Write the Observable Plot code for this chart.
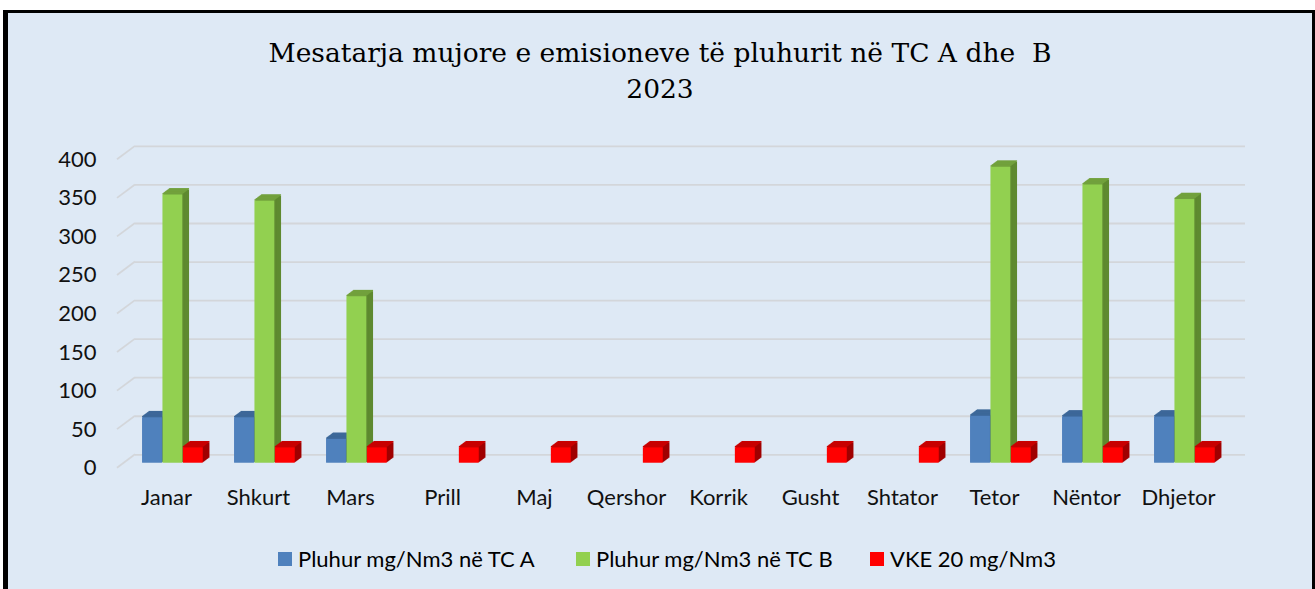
<!DOCTYPE html>
<html><head><meta charset="utf-8">
<script src="https://cdn.jsdelivr.net/npm/d3@7"></script>
<script src="https://cdn.jsdelivr.net/npm/@observablehq/plot@0.6"></script>
<style>
html,body{margin:0;padding:0;background:#fff;}
#frame{position:absolute;left:3px;top:10px;width:1304px;height:600px;background:#dee9f5;border-left:5px solid #000;border-top:3px solid #000;border-right:3px solid #000;overflow:hidden;}
#title{height:97px;box-sizing:border-box;padding-top:22px;text-align:center;font-family:"DejaVu Serif";font-size:26.5px;line-height:36px;color:#000;white-space:pre;}
#chart svg{display:block;}
#legend{display:flex;align-items:center;padding-top:26px;margin-left:270px;font-family:Lato;font-size:22px;line-height:26px;color:#000;white-space:nowrap;}
.item{display:flex;align-items:center;}
.sw{width:14px;height:14px;margin-right:6px;flex:none;}
</style></head>
<body>
<div id="frame">
  <div id="title"></div>
  <div id="chart"></div>
  <div id="legend"></div>
</div>
<script>
const titleLines = ["Mesatarja mujore e emisioneve të pluhurit në TC A dhe  B", "2023"];
const months = ["Janar","Shkurt","Mars","Prill","Maj","Qershor","Korrik","Gusht","Shtator","Tetor","Nëntor","Dhjetor"];
const tcA = [59, 59, 31, null, null, null, null, null, null, 61, 60, 60];
const tcB = [348, 340, 216, null, null, null, null, null, null, 384, 361, 342];
const vke = [20, 20, 20, 20, 20, 20, 20, 20, 20, 20, 20, 20];
const yTicks = [0, 50, 100, 150, 200, 250, 300, 350, 400];
const seriesNames = ["Pluhur mg/Nm3 në TC A", "Pluhur mg/Nm3 në TC B", "VKE 20 mg/Nm3"];

const palette = [
  {front: "#4f81bd", top: "#3d6899", side: "#345a88"},
  {front: "#92d050", top: "#72a13d", side: "#5f8a30"},
  {front: "#ff0000", top: "#c80000", side: "#a00000"}
];
const gridColor = "#d3d6da";

// title
const tdiv = document.getElementById("title");
titleLines.forEach(t => { const d = document.createElement("div"); d.textContent = t; tdiv.appendChild(d); });

const W = 1304, H = 410, mL = 109, mR = 85, mT = 44.3, mB = 57.3;
const band = (W - mL - mR) / months.length;
const bw = 20.4;
const inset = (band - bw) / 2;
const depthX = 6.7, depthY = 5, steps = 8;
const backDX = 18, backDY = -8.4, frontDY = 5;

function bar3d(values, dx, c) {
  const data = months.map((m, i) => ({m, v: values[i]})).filter(d => d.v != null);
  const o = {x: "m", insetLeft: inset, insetRight: inset};
  const marks = [];
  for (let k = steps; k >= 1; k--)
    marks.push(Plot.barY(data, {...o, y: "v", fill: c.side, dx: dx + k * depthX / steps, dy: -k * depthY / steps}));
  for (let k = steps; k >= 0; k--)
    marks.push(Plot.barY(data, {...o, y1: "v", y2: "v", insetTop: -1.3, fill: c.top, dx: dx + k * depthX / steps, dy: -k * depthY / steps}));
  marks.push(Plot.barY(data, {...o, y: "v", fill: c.front, dx}));
  return marks;
}

function diagonals(...args) {
  const scales = args.find(a => a && !Array.isArray(a) && typeof a.y === "function");
  const dims = args.find(a => a && typeof a.marginLeft === "number" && typeof a.width === "number");
  const g = d3.create("svg:g").attr("stroke", gridColor).attr("stroke-width", 1.8).attr("fill", "none");
  for (const t of yTicks) {
    const yv = scales.y(t);
    g.append("line")
      .attr("x1", dims.marginLeft).attr("y1", yv + frontDY)
      .attr("x2", dims.marginLeft + backDX).attr("y2", yv + backDY);
  }
  return g.node();
}

const chart = Plot.plot({
  width: W, height: H,
  marginLeft: mL, marginRight: mR, marginTop: mT, marginBottom: mB,
  x: {domain: months, padding: 0, axis: null},
  y: {domain: [0, 400], axis: null},
  style: {background: "transparent", fontFamily: "Lato", fontSize: "22px", color: "#000", overflow: "visible"},
  marks: [
    Plot.ruleY(yTicks, {stroke: gridColor, strokeWidth: 1.8, dx: backDX, dy: backDY}),
    diagonals,
    ...bar3d(tcA, -14, palette[0]),
    ...bar3d(tcB, 6.4, palette[1]),
    ...bar3d(vke, 26.8, palette[2]),
    Plot.text(yTicks, {y: d => d, text: d => String(d), frameAnchor: "left", textAnchor: "end", dx: -21, dy: frontDY, fill: "#111"}),
    Plot.text(months, {x: d => d, text: d => d, frameAnchor: "bottom", lineAnchor: "top", dy: 26.6, fill: "#111"})
  ]
});
document.getElementById("chart").appendChild(chart);

// legend
const legendTextWidths = [235, 231, 160];
const lg = document.getElementById("legend");
seriesNames.forEach((name, i) => {
  const it = document.createElement("div"); it.className = "item";
  const sw = document.createElement("div"); sw.className = "sw"; sw.style.background = palette[i].front;
  const tx = document.createElement("span"); tx.textContent = name;
  tx.style.display = "inline-block"; tx.style.width = legendTextWidths[i] + "px";
  if (i < seriesNames.length - 1) it.style.marginRight = "43px";
  it.appendChild(sw); it.appendChild(tx); lg.appendChild(it);
});
</script>
</body></html>
